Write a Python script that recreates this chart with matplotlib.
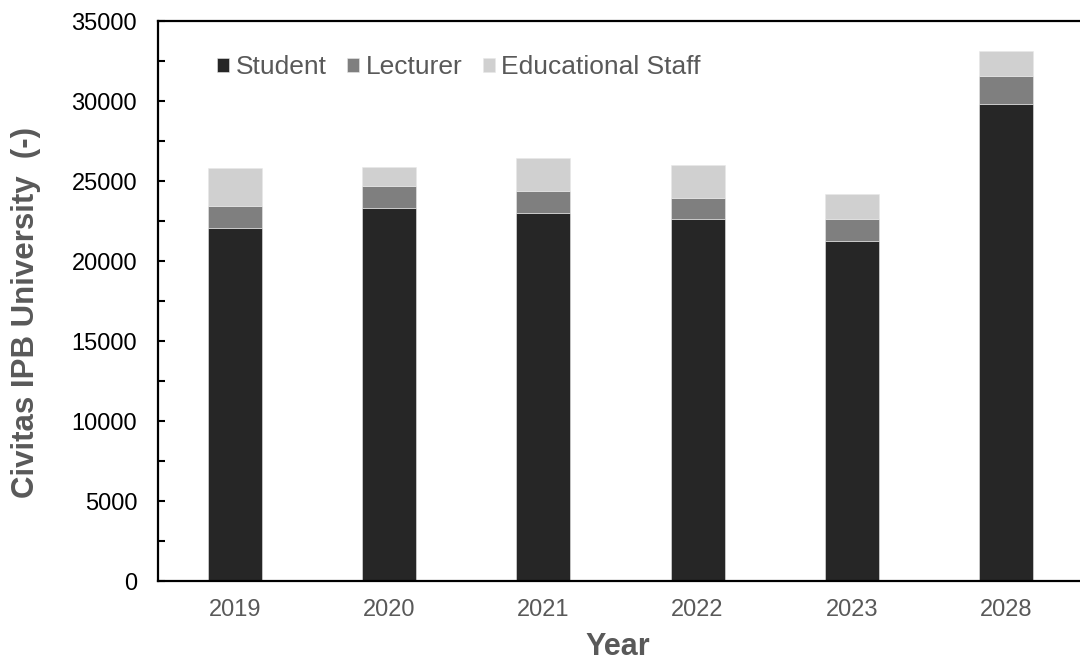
import matplotlib
matplotlib.use("Agg")
import matplotlib.pyplot as plt
import numpy as np

plt.rcParams['font.family'] = ['Liberation Sans', 'DejaVu Sans']

years = ["2019", "2020", "2021", "2022", "2023", "2028"]
student = [22090, 23310, 22980, 22610, 21230, 29790]
lecturer = [1370, 1380, 1380, 1350, 1420, 1770]
staff = [2350, 1210, 2100, 2020, 1540, 1570]
series_names = ["Student", "Lecturer", "Educational Staff"]
colors = ["#262626", "#7f7f7f", "#d0d0d0"]
gray_text = "#595959"

fig = plt.figure(figsize=(10.8, 6.6), dpi=100)
ax = fig.add_axes([158/1080, 1 - 581/660, (1083 - 158)/1080, 560/660])

x = np.arange(len(years))
w = 0.35
s = np.array(student)
l = np.array(lecturer)
e = np.array(staff)
b1 = ax.bar(x, s, w, color=colors[0], edgecolor="#e8e8e8", linewidth=0.4, label=series_names[0])
b2 = ax.bar(x, l, w, bottom=s, color=colors[1], edgecolor="#e8e8e8", linewidth=0.4, label=series_names[1])
b3 = ax.bar(x, e, w, bottom=s + l, color=colors[2], edgecolor="#e8e8e8", linewidth=0.4, label=series_names[2])

ax.set_xlim(-0.5, 5.5)
ax.set_ylim(0, 35000)
ax.set_yticks(np.arange(0, 35001, 5000))
ax.set_yticks(np.arange(2500, 35000, 5000), minor=True)
ax.set_xticks(x)
ax.set_xticklabels(years)

for sp in ["left", "bottom", "top"]:
    ax.spines[sp].set_linewidth(1.6)
    ax.spines[sp].set_color("black")
ax.spines["right"].set_visible(False)

ax.tick_params(axis="y", which="both", direction="in", length=5, width=1.5,
               labelsize=17, labelcolor="black", pad=15)
ax.tick_params(axis="x", length=0, labelsize=17, labelcolor=gray_text, pad=13)

ax.set_ylabel("Civitas IPB University  (-)", fontsize=22.5, fontweight="bold", color=gray_text)
ax.yaxis.set_label_coords((26 - 158)/925, (581 - 312)/560)
ax.yaxis.label.set_va("center")
ax.set_xlabel("Year", fontsize=22, fontweight="bold", color=gray_text)
ax.xaxis.set_label_coords(0.497, (581 - 647)/560)
ax.xaxis.label.set_va("center")

leg = ax.legend(handles=[b1, b2, b3], labels=series_names, ncol=3, frameon=False,
                loc="center left", bbox_to_anchor=((217 - 158)/925, (581 - 67)/560),
                borderaxespad=0, borderpad=0, fontsize=19,
                handlelength=0.45, handleheight=0.45, handletextpad=0.25,
                columnspacing=0.78)
for t in leg.get_texts():
    t.set_color(gray_text)

fig.savefig("out.png", dpi=100)
